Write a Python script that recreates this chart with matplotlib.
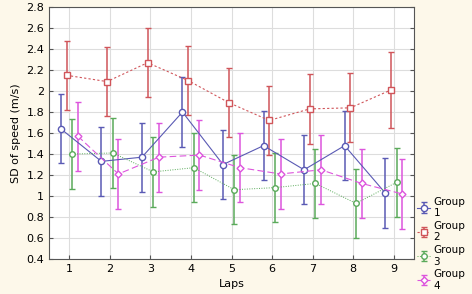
import numpy as np
import matplotlib.pyplot as plt

## Datos
laps = [1, 2, 3, 4, 5, 6, 7, 8, 9]

g1_mean = [1.64, 1.33, 1.37, 1.80, 1.30, 1.48, 1.25, 1.48, 1.03]
g1_err = [0.33, 0.33, 0.33, 0.33, 0.33, 0.33, 0.33, 0.33, 0.33]

g2_mean = [2.15, 2.09, 2.27, 2.10, 1.89, 1.72, 1.83, 1.84, 2.01]
g2_err = [0.33, 0.33, 0.33, 0.33, 0.33, 0.33, 0.33, 0.33, 0.36]

g3_mean = [1.40, 1.41, 1.23, 1.27, 1.06, 1.08, 1.12, 0.93, 1.13]
g3_err = [0.33, 0.33, 0.33, 0.33, 0.33, 0.33, 0.33, 0.33, 0.33]

g4_mean = [1.57, 1.21, 1.37, 1.39, 1.27, 1.21, 1.25, 1.12, 1.02]
g4_err = [0.33, 0.33, 0.33, 0.33, 0.33, 0.33, 0.33, 0.33, 0.33]

x = np.array(laps, dtype=float)

fig = plt.figure(figsize=(4.72, 2.94), dpi=100, facecolor='#fdf8ea')
ax = fig.add_axes([0.104, 0.119, 0.773, 0.857])
ax.set_facecolor('white')

# Group 1: azul, linea continua
ax.errorbar(x - 0.21, g1_mean, yerr=g1_err, color='#5a5ab4', linestyle='-', lw=0.8,
            marker='o', ms=4.5, mfc='white', mec='#5a5ab4', capsize=2.5, elinewidth=1.1,
            label='Group\n1')
# Group 2: rojo, punteado
ax.errorbar(x - 0.07, g2_mean, yerr=g2_err, color='#d0555a', linestyle=(0, (2, 2)), lw=0.8,
            marker='s', ms=4.5, mfc='white', mec='#d0555a', capsize=2.5, elinewidth=1.1,
            label='Group\n2')
# Group 3: verde, puntos finos
ax.errorbar(x + 0.07, g3_mean, yerr=g3_err, color='#5aaa5a', linestyle=(0, (1, 1.5)), lw=0.7,
            marker='o', ms=4, mfc='white', mec='#5aaa5a', capsize=2.5, elinewidth=1.1,
            label='Group\n3')
# Group 4: magenta, guiones largos
ax.errorbar(x + 0.21, g4_mean, yerr=g4_err, color='#dd55dd', linestyle=(0, (6, 3)), lw=0.8,
            marker='D', ms=3.5, mfc='white', mec='#dd55dd', capsize=2.5, elinewidth=1.1,
            label='Group\n4')

ax.set_xlim(0.5, 9.5)
ax.set_ylim(0.4, 2.8)
ax.set_xticks(laps)
ax.set_yticks(np.arange(0.4, 2.81, 0.2))
ax.set_yticklabels(['0.4', '0.6', '0.8', '1', '1.2', '1.4', '1.6', '1.8', '2', '2.2', '2.4', '2.6', '2.8'])
ax.tick_params(axis='both', direction='in', labelsize=8, length=3, right=True, color='#555555')
ax.grid(True, color='#dddddd', lw=0.8)
ax.set_axisbelow(True)
for s in ax.spines.values():
    s.set_color('#555555')

ax.set_xlabel('Laps', fontsize=8, labelpad=4)
ax.set_ylabel('SD of speed (m/s)', fontsize=8)

ax.legend(loc='lower left', bbox_to_anchor=(1.005, -0.13), frameon=False, fontsize=7.5,
          handlelength=1.3, handletextpad=0.3, labelspacing=0.25, borderaxespad=0.0,
          borderpad=0.1)

plt.savefig('out.png', dpi=100, facecolor=fig.get_facecolor())
